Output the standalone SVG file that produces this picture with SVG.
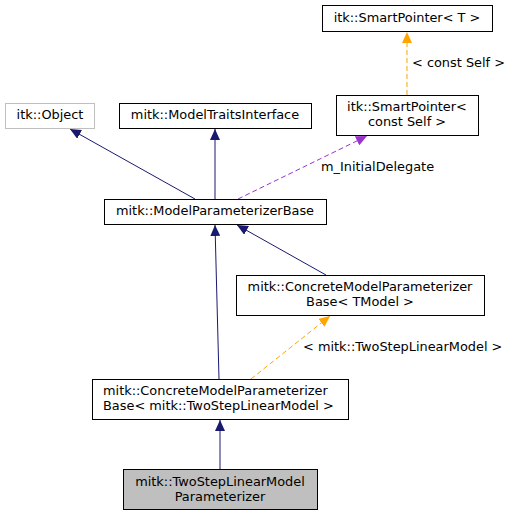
<svg xmlns="http://www.w3.org/2000/svg" width="511" height="516" viewBox="0 0 511 516">
<style>
text{font-family:"DejaVu Sans","Liberation Sans",sans-serif;font-size:12.9px;fill:#000}
.n rect{fill:#fff;stroke:#000;stroke-width:1}
.c{text-anchor:middle}
.e{fill:none;stroke-width:1}
.nv{stroke:#191970}
.or{stroke:#ffa500;stroke-dasharray:5,3}
.pu{stroke:#9a32cd;stroke-dasharray:5,3}
</style>
<defs>
<marker id="aN" viewBox="0 0 11 10" markerUnits="userSpaceOnUse" markerWidth="11" markerHeight="10" refX="11" refY="5" orient="auto"><path d="M0,0 L11,5 L0,10 z" fill="#191970"/></marker>
<marker id="aO" viewBox="0 0 11 10" markerUnits="userSpaceOnUse" markerWidth="11" markerHeight="10" refX="11" refY="5" orient="auto"><path d="M0,0 L11,5 L0,10 z" fill="#ffa500"/></marker>
<marker id="aP" viewBox="0 0 11 10" markerUnits="userSpaceOnUse" markerWidth="11" markerHeight="10" refX="11" refY="5" orient="auto"><path d="M0,0 L11,5 L0,10 z" fill="#9a32cd"/></marker>
</defs>
<rect width="511" height="516" fill="#fff"/>
<g id="edges">
<path class="e or" d="M407,95 L407,32" marker-end="url(#aO)"/>
<text x="412" y="67">&lt; const Self &gt;</text>
<path class="e nv" d="M195,199 L70,129" marker-end="url(#aN)"/>
<path class="e nv" d="M215,199 L215,129" marker-end="url(#aN)"/>
<path class="e pu" d="M238,199 L367,136" marker-end="url(#aP)"/>
<text x="321" y="171.4">m_InitialDelegate</text>
<path class="e nv" d="M326,275 L237,225" marker-end="url(#aN)"/>
<path class="e nv" d="M219,379 L215,225" marker-end="url(#aN)"/>
<path class="e or" d="M251,379 L330,316" marker-end="url(#aO)"/>
<text x="303" y="351.4">&lt; mitk::TwoStepLinearModel &gt;</text>
<path class="e nv" d="M220,469 L220,420" marker-end="url(#aN)"/>
</g>
<g id="smartT" class="n"><rect x="322.5" y="5.5" width="170" height="26"/><text class="c" x="407" y="22">itk::SmartPointer&lt; T &gt;</text></g>
<g id="itkObject" class="n"><rect x="5.5" y="103.5" width="89" height="25" style="stroke:#bfbfbf"/><text class="c" x="50" y="119">itk::Object</text></g>
<g id="traits" class="n"><rect x="119.5" y="103.5" width="192" height="25"/><text class="c" x="215" y="119">mitk::ModelTraitsInterface</text></g>
<g id="smartSelf" class="n"><rect x="336.5" y="95.5" width="142" height="40"/><text class="c" x="407" y="111.3">itk::SmartPointer&lt;</text><text class="c" x="407" y="125.7">const Self &gt;</text></g>
<g id="paramBase" class="n"><rect x="104.5" y="199.5" width="222" height="25"/><text class="c" x="215" y="215.4">mitk::ModelParameterizerBase</text></g>
<g id="concreteT" class="n"><rect x="236.5" y="275.5" width="248" height="40"/><text class="c" x="360" y="291.4">mitk::ConcreteModelParameterizer</text><text class="c" x="360" y="306.4">Base&lt; TModel &gt;</text></g>
<g id="concreteTwo" class="n"><rect x="92.5" y="379.5" width="256" height="40"/><text x="103" y="395.4">mitk::ConcreteModelParameterizer</text><text x="103" y="409.7">Base&lt; mitk::TwoStepLinearModel &gt;</text></g>
<g id="twoStep" class="n"><rect x="123.5" y="469.5" width="194" height="40" style="fill:#bfbfbf"/><text class="c" x="220" y="486.4">mitk::TwoStepLinearModel</text><text class="c" x="220" y="500.7">Parameterizer</text></g>
</svg>
